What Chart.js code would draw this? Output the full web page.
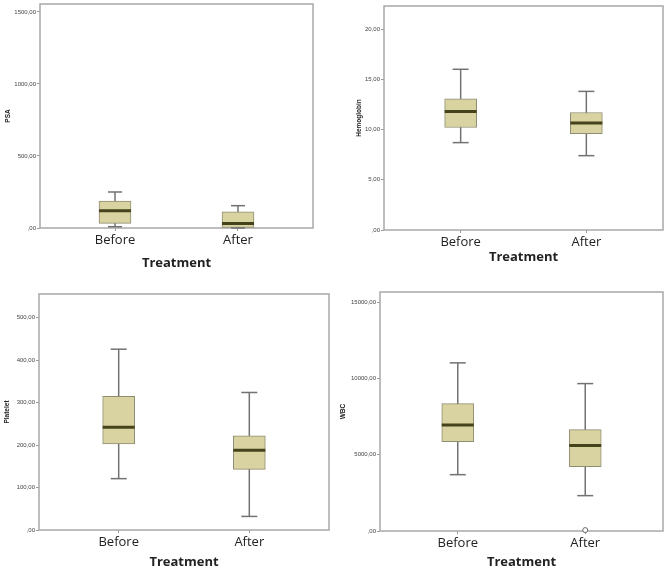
<!DOCTYPE html>
<html>
<head>
<meta charset="utf-8">
<script src="https://cdn.jsdelivr.net/npm/chart.js@4.4.0/dist/chart.umd.min.js"></script>
<style>
  body { margin: 0; background: #fff; width: 669px; height: 573px; position: relative; overflow: hidden; }
  canvas { position: absolute; }
</style>
</head>
<body>
<canvas id="psaChart"></canvas>
<canvas id="hbChart"></canvas>
<canvas id="pltChart"></canvas>
<canvas id="wbcChart"></canvas>
<script>
/* ---- data: [min, Q1, median, Q3, max] per group ---- */
const categories = ['Before', 'After'];

const psaBefore = [9, 32, 120, 187, 250];
const psaAfter = [0, 0, 32, 113, 155];
const psaTicks = [0, 500, 1000, 1500];
const psaRange = [0, 1555];

const hbBefore = [8.7, 10.2, 11.8, 13.05, 16.0];
const hbAfter = [7.4, 9.6, 10.65, 11.7, 13.8];
const hbTicks = [0, 5, 10, 15, 20];
const hbRange = [0, 22.3];

const pltBefore = [121, 203, 242, 315, 426];
const pltAfter = [32, 143, 188, 222, 324];
const pltTicks = [0, 100, 200, 300, 400, 500];
const pltRange = [0, 556];

const wbcBefore = [3694, 5860, 6955, 8353, 11024];
const wbcAfter = [2318, 4220, 5600, 6647, 9665];
const wbcAfterOutliers = [60];
const wbcTicks = [0, 5000, 10000, 15000];
const wbcRange = [0, 15670];

/* ---- look ---- */
const BOX_FILL = '#d9d3a1';
const BOX_EDGE = '#8f8d72';
const MEDIAN = '#45431c';
const WHISKER = '#727272';
const FRAME = '#a8a8a8';

const frameBorder = {
    id: 'frameBorder',
    beforeDatasetsDraw(chart) {
        const { ctx, chartArea: a } = chart;
        ctx.save();
        ctx.strokeStyle = FRAME;
        ctx.lineWidth = 1.5;
        ctx.strokeRect(a.left, a.top, a.right - a.left, a.bottom - a.top);
        ctx.restore();
    }
};

const fmtComma = v => v === 0 ? ',00' : v.toFixed(2).replace('.', ',');

function makeBoxChart(id, p) {
    const canvas = document.getElementById(id);
    canvas.width = p.w;
    canvas.height = p.h;
    canvas.style.left = p.left + 'px';
    canvas.style.top = p.top + 'px';

    const groups = [p.before, p.after];
    const datasets = [];

    // median lines
    datasets.push({
        type: 'line', showLine: false, order: 0, clip: false,
        data: groups.map((g, i) => ({ x: i, y: g[2] })),
        pointStyle: 'line', pointRadius: 16, pointHoverRadius: 16,
        pointBorderColor: MEDIAN, pointBorderWidth: 3
    });
    // whisker caps
    datasets.push({
        type: 'line', showLine: false, order: 0, clip: false,
        data: groups.flatMap((g, i) => [{ x: i, y: g[0] }, { x: i, y: g[4] }]),
        pointStyle: 'line', pointRadius: p.capRadius, pointHoverRadius: p.capRadius,
        pointBorderColor: WHISKER, pointBorderWidth: 1.5
    });
    // boxes
    datasets.push({
        type: 'bar', order: 2,
        data: groups.map((g, i) => ({ x: i, y: [g[1], g[3]] })),
        backgroundColor: BOX_FILL, borderColor: BOX_EDGE, borderWidth: 1,
        barThickness: 32, borderSkipped: false
    });
    // whisker stems
    groups.forEach((g, i) => {
        datasets.push({
            type: 'line', order: 3, clip: false,
            data: [{ x: i, y: g[0] }, { x: i, y: g[4] }],
            borderColor: WHISKER, borderWidth: 1.5, pointRadius: 0
        });
    });
    if (p.outliers) {
        datasets.push({
            type: 'line', showLine: false, order: 0, clip: false,
            data: p.outliers.map(v => ({ x: 1, y: v })),
            pointStyle: 'circle', pointRadius: 2.5,
            pointBackgroundColor: '#fff', pointBorderColor: '#666', pointBorderWidth: 1
        });
    }

    return new Chart(canvas.getContext('2d'), {
        type: 'bar',
        data: { datasets },
        options: {
            responsive: false,
            animation: false,
            layout: { autoPadding: false, padding: { top: p.padTop, right: p.padRight, left: 0, bottom: 0 } },
            plugins: { legend: { display: false }, tooltip: { enabled: false } },
            scales: {
                x: {
                    type: 'linear', min: -0.61, max: 1.61, offset: false,
                    afterBuildTicks: s => { s.ticks = [{ value: 0 }, { value: 1 }]; },
                    afterFit: s => { s.height = p.xHeight; s.paddingLeft = 0; s.paddingRight = 0; },
                    grid: { display: true, offset: false, drawOnChartArea: false, drawTicks: true, tickLength: 3, color: '#999' },
                    border: { display: false },
                    ticks: {
                        color: '#222', padding: 1,
                        font: { family: 'Open Sans', size: 13 },
                        callback: v => categories[v]
                    },
                    title: {
                        display: true, text: 'Treatment', color: '#222',
                        font: { family: 'Open Sans', size: 13, weight: 'bold' },
                        padding: { top: 0, bottom: p.xTitlePad }
                    }
                },
                y: {
                    min: p.range[0], max: p.range[1],
                    afterBuildTicks: s => { s.ticks = p.ticks.map(v => ({ value: v })); },
                    afterFit: s => { s.width = p.yWidth; s.paddingTop = 0; s.paddingBottom = 0; },
                    grid: { display: true, drawOnChartArea: false, drawTicks: true, tickLength: 3, color: '#999' },
                    border: { display: false },
                    ticks: {
                        color: '#444', padding: 1,
                        font: { family: 'Liberation Sans', size: 6 },
                        callback: v => fmtComma(v)
                    },
                    title: {
                        display: true, text: p.yTitle, color: '#222',
                        font: { family: 'Liberation Sans', size: 6.5, weight: 'bold' },
                        padding: { top: p.yTitleOffset - 4, bottom: 0 }
                    }
                }
            }
        },
        plugins: [frameBorder]
    });
}

makeBoxChart('psaChart', {
    left: 0, top: 0, w: 330, h: 280,
    padTop: 4, padRight: 17, yWidth: 40, xHeight: 52, xTitlePad: 9, yTitleOffset: 8, capRadius: 7,
    before: psaBefore, after: psaAfter, ticks: psaTicks, range: psaRange, yTitle: 'PSA'
});
makeBoxChart('hbChart', {
    left: 335, top: 0, w: 334, h: 280,
    padTop: 6, padRight: 6, yWidth: 49, xHeight: 50, xTitlePad: 15, yTitleOffset: 24, capRadius: 8,
    before: hbBefore, after: hbAfter, ticks: hbTicks, range: hbRange, yTitle: 'Hemoglobin'
});
makeBoxChart('pltChart', {
    left: 0, top: 285, w: 332, h: 288,
    padTop: 9, padRight: 3, yWidth: 39, xHeight: 43, xTitlePad: 3, yTitleOffset: 7, capRadius: 8,
    before: pltBefore, after: pltAfter, ticks: pltTicks, range: pltRange, yTitle: 'Platelet'
});
makeBoxChart('wbcChart', {
    left: 335, top: 285, w: 334, h: 288,
    padTop: 7, padRight: 6, yWidth: 45, xHeight: 42, xTitlePad: 3, yTitleOffset: 8, capRadius: 8,
    before: wbcBefore, after: wbcAfter, outliers: wbcAfterOutliers, ticks: wbcTicks, range: wbcRange, yTitle: 'WBC'
});
</script>
</body>
</html>
